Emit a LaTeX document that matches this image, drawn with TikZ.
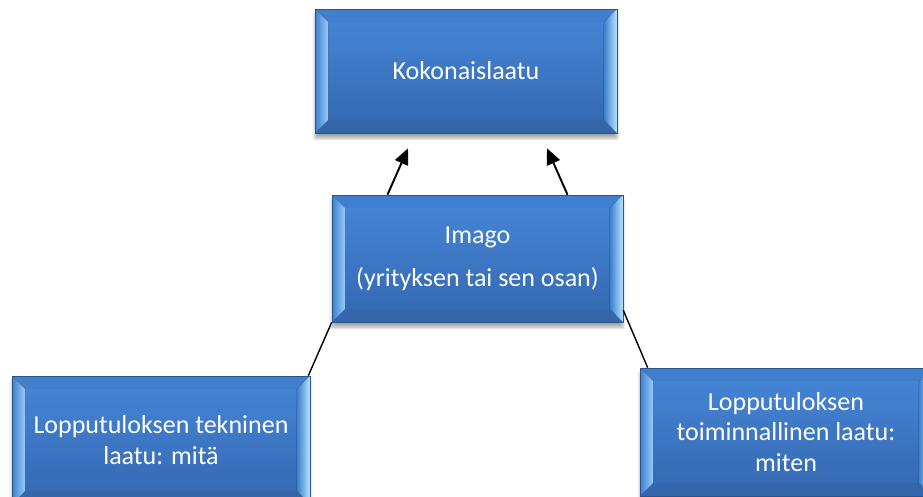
\documentclass[tikz,border=0pt]{standalone}
\usepackage{fontspec}
\newfontfamily\carlito{Carlito}
\usetikzlibrary{arrows.meta,calc,shadows.blur}

\definecolor{facetop}{RGB}{68,132,212}
\definecolor{facebot}{RGB}{54,106,180}
\definecolor{bevtop}{RGB}{64,126,206}
\definecolor{bevbot}{RGB}{52,102,172}
\definecolor{bevlight}{RGB}{150,205,250}
\definecolor{bevbright}{RGB}{180,228,255}
\definecolor{bevmid}{RGB}{64,126,204}
\definecolor{boxedge}{RGB}{42,84,140}

% bevelled face, drawn inside the node
\newcommand\bevelfill{%
  \coordinate (bsw) at (path picture bounding box.south west);
  \coordinate (bne) at (path picture bounding box.north east);
  \coordinate (isw) at ([shift={(0.26cm,0.26cm)}]bsw);
  \coordinate (ine) at ([shift={(-0.26cm,-0.26cm)}]bne);
  \fill[top color=facetop,bottom color=facebot] (isw) rectangle (ine);
  \fill[bevtop] (bsw|-bne) -- (isw|-ine) -- (ine) -- (bne) -- cycle;
  \fill[bevbot] (bsw) -- (isw) -- (ine|-isw) -- (bne|-bsw) -- cycle;
  \fill[left color=bevmid,right color=bevlight] (bsw) -- (isw) -- (isw|-ine) -- (bsw|-bne) -- cycle;
  \fill[left color=bevmid,right color=bevbright] (bne) -- (ine) -- (ine|-isw) -- (bne|-bsw) -- cycle;
}

\begin{document}
\begin{tikzpicture}[x=0.02cm,y=-0.02cm]
	\tikzset{laatu/.style = {shape=rectangle,draw=boxedge,line width=0.4pt,inner sep=0pt,
			text=white,align=center,font=\carlito\fontsize{14.8}{17.5}\selectfont,
			path picture={\bevelfill},
			blur shadow={shadow xshift=0pt,shadow yshift=-3pt,shadow blur steps=6,shadow opacity=35}}}
	\tikzset{pil/.style = {-{Triangle[length=0.32cm,width=0.28cm]},line width=1.1pt}}
	\tikzset{line/.style = {line width=0.8pt}}
	\useasboundingbox (0,0) rectangle (923,497);
	\node[laatu,minimum width=6.04cm,minimum height=2.48cm] (kok) at (466,71) {Kokonaislaatu};
	\node[laatu,minimum width=5.82cm,minimum height=2.54cm] (imago) at (477.5,258.5) {Imago\\[7pt](yrityksen tai sen osan)};
	\node[laatu,minimum width=5.96cm,minimum height=2.56cm] (tekn) at (161,440) {Lopputuloksen tekninen\\laatu: mitä};
	\node[laatu,minimum width=5.84cm,minimum height=2.56cm] (toim) at (786,432) {Lopputuloksen\\toiminnallinen laatu:\\miten};
	\draw[pil] ([shift={(-90,0)}]imago.north) -- ([shift={(-58,15)}]kok.south);
	\draw[pil] ([shift={(90,0)}]imago.north) -- ([shift={(81,15)}]kok.south);
	\draw[line] (imago.south west) -- ([shift={(-2,0)}]tekn.north east);
	\draw[line] ([shift={(0,-12)}]imago.south east) -- ([shift={(8,0)}]toim.north west);
\end{tikzpicture}
\end{document}
